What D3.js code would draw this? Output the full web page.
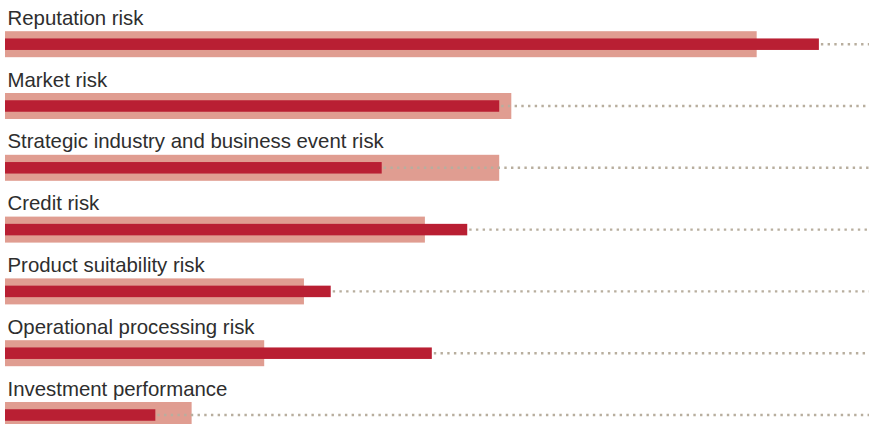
<!DOCTYPE html>
<html>
<head>
<meta charset="utf-8">
<script src="https://cdn.jsdelivr.net/npm/d3@7"></script>
<style>
  html, body { margin: 0; padding: 0; background: #ffffff; }
  svg { display: block; }
  text { font-family: "Liberation Sans", Arial, Helvetica, sans-serif; }
</style>
</head>
<body>
<svg id="chart" width="869" height="424"></svg>
<script>
// Risk categories, top to bottom
const categories = [
  "Reputation risk",
  "Market risk",
  "Strategic industry and business event risk",
  "Credit risk",
  "Product suitability risk",
  "Operational processing risk",
  "Investment performance"
];
// Wide light bars (share of respondents, %)
const backValues = [87.0, 58.6, 57.2, 48.6, 34.6, 30.0, 21.6];
// Narrow dark bars (share of respondents, %)
const frontValues = [94.2, 57.2, 43.6, 53.5, 37.7, 49.4, 17.4];

const width = 869, height = 424;
const svg = d3.select("#chart");

const x = d3.scaleLinear().domain([0, 100]).range([5, 869]);
const y = d3.scalePoint().domain(categories).range([44.2, 415]);

const backH = 26, frontH = 11.5;
const rows = categories.map((c, i) => ({ c, back: backValues[i], front: frontValues[i] }));

const g = svg.append("g");

// Light bars
g.selectAll("rect.back").data(rows).join("rect")
  .attr("class", "back")
  .attr("x", x(0))
  .attr("y", d => y(d.c) - backH / 2)
  .attr("width", d => x(d.back) - x(0))
  .attr("height", backH)
  .attr("fill", "#e09d91");

// Dotted guide from the end of each dark bar to the right edge
g.selectAll("line.guide").data(rows).join("line")
  .attr("class", "guide")
  .attr("x1", d => x(d.front) + 2)
  .attr("x2", width)
  .attr("y1", d => y(d.c))
  .attr("y2", d => y(d.c))
  .attr("stroke", "#b8ae9e")
  .attr("stroke-width", 2.4)
  .attr("stroke-dasharray", "2.4,4.3");

// Dark bars
g.selectAll("rect.front").data(rows).join("rect")
  .attr("class", "front")
  .attr("x", x(0))
  .attr("y", d => y(d.c) - frontH / 2)
  .attr("width", d => x(d.front) - x(0))
  .attr("height", frontH)
  .attr("fill", "#b91f33");

// Category labels above each bar
g.selectAll("text.label").data(rows).join("text")
  .attr("class", "label")
  .attr("x", 7.5)
  .attr("y", d => y(d.c) - 19.5)
  .attr("font-size", 20.4)
  .attr("fill", "#2e2e2e")
  .text(d => d.c);
</script>
</body>
</html>
